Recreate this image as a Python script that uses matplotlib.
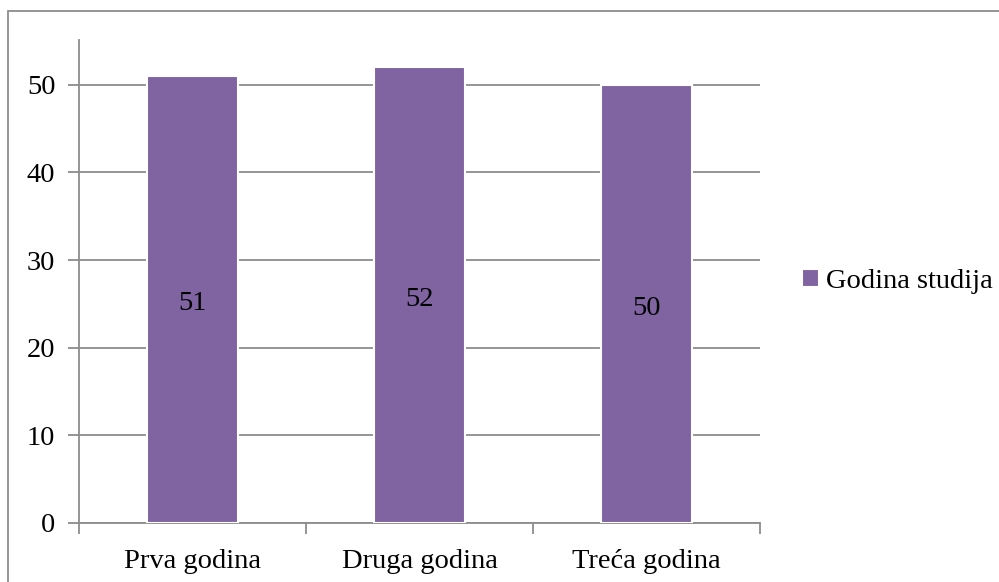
import matplotlib.pyplot as plt
from matplotlib.patches import Rectangle

categories = ['Prva godina', 'Druga godina', 'Treća godina']
values = [51, 52, 50]
series_name = 'Godina studija'
y_ticks = [0, 10, 20, 30, 40, 50]

plt.rcParams['font.family'] = ['Liberation Serif', 'DejaVu Serif']

grey = '#8c8c8c'
purple = '#8064a2'
fs = 20.5

fig = plt.figure(figsize=(9.99, 5.82), dpi=100)
ax = fig.add_axes([0.0791, 0.1014, 0.6817, 0.8299])

# outer chart border (runs off the right and bottom edges)
fig.patches.append(Rectangle((8 / 999, -0.05), 1.1, 1 - 11 / 582 + 0.05,
                             transform=fig.transFigure, fill=False,
                             edgecolor=grey, linewidth=1.3))

x = range(len(categories))
bars = ax.bar(x, values, width=0.4, color=purple, edgecolor='white',
              linewidth=1.5, label=series_name, zorder=3)

# value labels in the middle of each bar
for i, v in zip(x, values):
    ax.annotate(str(v), xy=(i, v / 2), xytext=(0, -3), textcoords='offset points',
                ha='center', va='center', fontsize=fs, color='black', zorder=4)

ax.set_xlim(-0.5, 2.5)
ax.set_ylim(0, 55.1)
ax.set_yticks(y_ticks)
ax.set_xticks(list(x))
ax.set_xticklabels(categories)
ax.set_xticks([-0.5, 0.5, 1.5, 2.5], minor=True)

ax.yaxis.grid(True, color=grey, linewidth=1.3, zorder=0)
ax.set_axisbelow(True)

for side in ['top', 'right']:
    ax.spines[side].set_visible(False)
for side in ['left', 'bottom']:
    ax.spines[side].set_color(grey)
    ax.spines[side].set_linewidth(1.3)

ax.tick_params(axis='y', length=8, width=1.3, color=grey, labelsize=fs, pad=9)
ax.tick_params(axis='x', which='major', length=0, labelsize=fs, pad=19)
ax.tick_params(axis='x', which='minor', length=8, width=1.3, color=grey)

ax.legend(loc='center left', bbox_to_anchor=(1.045, 0.5), frameon=False,
          fontsize=fs, handlelength=0.6, handleheight=0.6,
          handletextpad=0.25, borderaxespad=0)

fig.savefig('out.png', dpi=100)
